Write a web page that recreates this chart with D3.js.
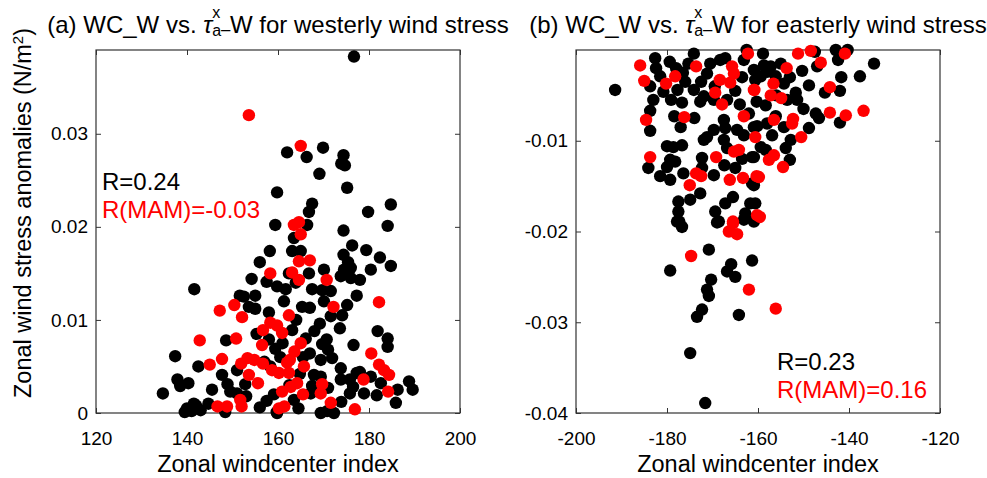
<!DOCTYPE html>
<html><head><meta charset="utf-8">
<script src="https://cdn.jsdelivr.net/npm/d3@7"></script>
<style>
body{margin:0;background:#fff;}
text{font-family:"Liberation Sans",Arial,sans-serif;fill:#000;}
</style></head>
<body><svg id="c" width="987" height="478"></svg>
<script>
// ---------- data ----------
const westXTicks = [120,140,160,180,200];
const westYTicks = [0,0.01,0.02,0.03];
const eastXTicks = [-200,-180,-160,-140,-120];
const eastYTicks = [-0.04,-0.03,-0.02,-0.01];
const westTitle = ["(a)", "westerly wind stress"];
const eastTitle = ["(b)", "easterly wind stress"];
const westR = ["R=0.24", "R(MAM)=-0.03"];
const eastR = ["R=0.23", "R(MAM)=0.16"];

const westAll = [[159.8,0.0237],[159.4,0.0202],[176.7,0.0383],[162,0.0280],[166.3,0.0275],[169.9,0.0285],[174.4,0.0277],[174.7,0.0266],[173.9,0.0268],[169.1,0.0257],[175.2,0.0242],[167.5,0.0225],[166.8,0.0216],[179.8,0.0216],[184.8,0.0224],[166.4,0.0202],[184.1,0.0201],[174.4,0.0196],
[158.2,0.0174],[156,0.0162],[154.2,0.0144],[157.5,0.0141],[159.8,0.0136],[141.6,0.0133],[151.6,0.0126],[152.5,0.0125],[155,0.0126],[153.6,0.0114],[155,0.0112],[158,0.0108],[155.3,0.0085],[148.6,0.0078],[158,0.0079],[159.4,0.0069],[137.4,0.0061],[142.5,0.0050],[151,0.0046],[147.7,0.0041],[137.9,0.0036],[140.3,0.0032],[138.5,0.0029],[148.9,0.0031],[152.8,0.0031],[134.7,0.0021],[149.5,0.0023],[151,0.0021],[159.1,0.0020],[157.5,0.0013],[148.4,0.0001],[140,0.0005],[141,0.0002],[142,0.0008],[143,0.0003],[139.5,0.0001],[141.5,0.0010],[144.7,0.0010],[159.7,0.0001],
[163.5,0.0188],[176.3,0.0180],[179.4,0.0175],[163.1,0.0174],[165,0.0174],[174.4,0.0170],[182.4,0.0167],[175.4,0.0162],[184.8,0.0158],[170.1,0.0154],[174.5,0.0154],[176,0.0156],[180.4,0.0154],[166.8,0.0150],[162.4,0.0150],[173.8,0.0147],[176,0.0145],[178,0.0143],[161.7,0.0133],[163.9,0.0140],[167.5,0.0133],[169.7,0.0132],[171.6,0.0131],[177.3,0.0126],[161.3,0.0120],[165.3,0.0114],[167,0.0113],[170.1,0.0120],[175.2,0.0116],[171.6,0.0104],[174.1,0.0105],[169.2,0.0096],[163.1,0.0089],[173.6,0.0091],[181.9,0.0088],[184.1,0.0080],[166.1,0.0080],[170.7,0.0079],[169.7,0.0074],[176.6,0.0073],[184.1,0.0071],[167,0.0064],[171.9,0.0059],[158.3,0.0050],[169.4,0.0057],[173.8,0.0048],[164.8,0.0042],[167.9,0.0041],[169.4,0.0039],[177.3,0.0043],[178,0.0044],[180.4,0.0039],[173.8,0.0036],[175.8,0.0036],[188.8,0.0034],[189.6,0.0025],[182.6,0.0032],[167.2,0.0021],[175.8,0.0021],[178.9,0.0021],[181.7,0.0019],[186.3,0.0025],[163.5,0.0014],[173.9,0.0012],[185.9,0.0011],[159.8,0.0000],[169.4,0.0000],[170.8,0.0002],[172.3,0.0000],
[160.5,0.0060],[157,0.0055],[161,0.0075],[164,0.0100],[168,0.0088],[171,0.0068],[165.5,0.0060],[162.5,0.0030],[167.5,0.0029],[171,0.0027],[176.5,0.0028],[145.5,0.0025],[153,0.0018],[156,0.0006],[164.5,0.0005]];

const westMAM = [[153.6,0.0320],[165,0.0287],[163.5,0.0202],[164.6,0.0205],[158.3,0.0150],[150.4,0.0116],[147.2,0.0110],[152.1,0.0103],[158.3,0.0097],[159.8,0.0094],[156.7,0.0089],[142.8,0.0078],[150.8,0.0080],[156.5,0.0073],[147.7,0.0058],[153.3,0.0059],[154.8,0.0057],[145,0.0052],[151.9,0.0053],[156.7,0.0053],[158.7,0.0046],[153.6,0.0041],[155.6,0.0032],[151.7,0.0014],[152,0.0007],[146.7,0.0007],[148.8,0.0007],[160.2,0.0005],
[165,0.0192],[164.6,0.0163],[167,0.0164],[163.1,0.0151],[164.6,0.0143],[170.7,0.0143],[172.2,0.0114],[182.2,0.0119],[162.4,0.0105],[160.9,0.0086],[165,0.0075],[163.6,0.0066],[180.5,0.0064],[162,0.0054],[162.6,0.0057],[165.7,0.0050],[182.2,0.0052],[183.3,0.0046],[184.4,0.0041],[160.2,0.0043],[162.4,0.0043],[178.8,0.0036],[164.2,0.0032],[162.8,0.0028],[169.7,0.0031],[160.9,0.0023],[165.5,0.0020],[169.4,0.0021],[184.2,0.0023],[171.6,0.0011],[161.4,0.0007],[176.9,0.0004]];

const eastAll = [[-191.4,-0.0044],[-182.6,-0.0009],[-182.4,-0.0020],[-181.5,-0.0029],[-183.7,-0.0040],[-179.4,-0.0013],[-180.8,-0.0046],[-177.7,-0.0044],[-176,-0.0035],[-174.1,-0.0004],[-175.3,-0.0015],[-183,-0.0055],[-179.1,-0.0055],[-176.7,-0.0058],[-174.1,-0.0044],[-183.7,-0.0067],[-183.7,-0.0089],[-178.4,-0.0073],[-171.9,-0.0051],[-171.2,-0.0026],[-170.5,-0.0015],[-168.3,-0.0011],[-167.2,-0.0009],[-163.1,-0.0011],[-162.5,0],[-166.8,-0.0055],[-169.7,-0.0055],[-172.7,-0.0057],[-160.9,-0.0022],[-160.6,-0.0033],[-160.3,-0.0057],[-167.5,-0.0077],[-167.2,-0.0086],[-169.7,-0.0088],[-171.2,-0.0096],[-171.9,-0.0099],[-164.6,-0.0088],[-163.1,-0.0094],[-160.9,-0.0085],[-180,-0.0106],[-178.6,-0.0107],[-176.7,-0.0105],[-167.5,-0.0099],[-166.8,-0.0108],[-184.1,-0.0130],[-179.3,-0.0121],[-178.2,-0.0123],[-180,-0.0129],[-181.5,-0.0139],[-179.3,-0.0143],[-176.4,-0.0136],[-172.3,-0.0119],[-172.3,-0.0130],[-167.4,-0.0127],[-169.7,-0.0138],[-160.9,-0.0118],[-161.3,-0.0147],[-172.7,-0.0158],[-174.9,-0.0165],[-177.5,-0.0167],[-177.5,-0.0178],[-177.3,-0.0189],[-165.5,-0.0162],[-167.2,-0.0169],[-169.4,-0.0178],[-168.6,-0.0189],[-162.8,-0.0180],[-161.7,-0.0169],[-160.9,-0.0189],
[-158.9,-0.0004],[-147.5,-0.0002],[-142.9,0],[-140.3,0],[-142.4,-0.0011],[-147,-0.0018],[-134.5,-0.0015],[-150.3,-0.0023],[-158.7,-0.0017],[-157.2,-0.0018],[-158,-0.0024],[-159.4,-0.0029],[-156.1,-0.0029],[-141.7,-0.0030],[-137.6,-0.0029],[-148.8,-0.0039],[-154.3,-0.0037],[-151.7,-0.0047],[-151.4,-0.0055],[-153.6,-0.0055],[-145.3,-0.0047],[-142,-0.0045],[-158.3,-0.0061],[-147.3,-0.0070],[-146.6,-0.0075],[-142,-0.0080],[-156.1,-0.0073],[-154.3,-0.0085],[-148.8,-0.0086],[-160.2,-0.0084],[-158,-0.0081],[-156.9,-0.0094],[-152.8,-0.0099],[-153.9,-0.0108],[-159.4,-0.0107],[-158.3,-0.0110],[-153,-0.0121],[-161.3,-0.0118],[-160.9,-0.0149],[-160.6,-0.0169],[-160.6,-0.0185],
[-177.8,-0.0189],[-176.7,-0.0195],[-169,-0.0190],[-163.1,-0.0187],[-170.8,-0.0220],[-179.3,-0.0243],[-165.9,-0.0236],[-166.8,-0.0244],[-165,-0.0250],[-161.3,-0.0232],[-170.3,-0.0253],[-171.2,-0.0264],[-170.8,-0.0271],[-172.3,-0.0286],[-173.4,-0.0294],[-164.2,-0.0292],[-174.9,-0.0334],[-171.6,-0.0389],
[-178,-0.0020],[-176.5,-0.0025],[-172.5,-0.0035],[-169.5,-0.0040],[-165,-0.0045],[-163.5,-0.0030],[-164,-0.0060],[-162,-0.0070],[-174,-0.0075],[-177,-0.0085],[-165,-0.0130],[-163.5,-0.0120],[-156,-0.0050],[-155,-0.0015],[-153,-0.0030],[-150,-0.0065]];

const eastMAM = [[-185.9,-0.0017],[-185,-0.0034],[-180.2,-0.0037],[-178.2,-0.0029],[-173.6,-0.0018],[-184.6,-0.0077],[-176.2,-0.0074],[-168.4,-0.0033],[-165.7,-0.0018],[-165.3,-0.0026],[-166.1,-0.0036],[-162.2,-0.0004],[-169.4,-0.0047],[-167.9,-0.0060],[-160.9,-0.0044],[-163.1,-0.0073],[-160.6,-0.0096],[-165.3,-0.0112],[-164.2,-0.0110],[-183.7,-0.0118],[-173.6,-0.0136],[-172.5,-0.0139],[-175,-0.0149],[-169.2,-0.0118],[-166.2,-0.0143],[-163.3,-0.0141],[-160.3,-0.0139],[-165.5,-0.0189],[-160.2,-0.0182],
[-151.2,-0.0004],[-148.4,-0.0001],[-140.9,-0.0004],[-146.2,-0.0014],[-153.7,-0.0020],[-156.6,-0.0037],[-160.8,-0.0044],[-157.2,-0.0050],[-154.9,-0.0053],[-144.2,-0.0041],[-144.2,-0.0069],[-140.7,-0.0072],[-136.8,-0.0067],[-156.5,-0.0077],[-152.3,-0.0076],[-152.5,-0.0081],[-150.5,-0.0096],[-156.5,-0.0116],[-157.6,-0.0121],[-154.5,-0.0129],[-159.8,-0.0140],[-159.6,-0.0184],
[-165.5,-0.0191],[-166.4,-0.0200],[-164.6,-0.0203],[-174.7,-0.0227],[-162,-0.0264],[-156.1,-0.0285]];

// ---------- drawing ----------
const svg = d3.select("#c");
const TOPY = 50, BOTY = 413, PW = 364;
const RED = "#ff0000";

function panel(opt){
  const x = d3.scaleLinear().domain(opt.xd).range([opt.left, opt.left+PW]);
  const y = d3.scaleLinear().domain(opt.yd).range([BOTY, TOPY]);
  const g = svg.append("g");
  const fmt = d => d===0 ? "0" : String(d);

  const ax = (axis, tr, vals, labels) => {
    const a = g.append("g").attr("transform", tr)
      .call(axis.tickValues(vals).tickSizeInner(-5).tickSizeOuter(0).tickPadding(labels?opt.pad:0)
        .tickFormat(labels ? fmt : ""));
    a.select(".domain").remove();
    a.selectAll("line").attr("stroke","#333");
    a.selectAll("text").style("font-size","19px").attr("fill","#000");
    return a;
  };
  ax(d3.axisBottom(x), `translate(0,${BOTY})`, opt.xt, true).selectAll("text").attr("dy","0.71em").attr("y",18.5);
  ax(d3.axisTop(x), `translate(0,${TOPY})`, opt.xt, false);
  ax(d3.axisLeft(y), `translate(${opt.left},0)`, opt.yt, true).selectAll("text").attr("x",-8);
  ax(d3.axisRight(y), `translate(${opt.left+PW},0)`, opt.yt, false);

  g.append("rect").attr("x",opt.left).attr("y",TOPY).attr("width",PW).attr("height",BOTY-TOPY)
    .attr("fill","none").attr("stroke","#333").attr("stroke-width",1.2);

  g.append("g").selectAll("circle").data(opt.all).join("circle")
    .attr("cx",d=>x(d[0])).attr("cy",d=>y(d[1])).attr("r",6.2).attr("fill","#000");
  g.append("g").selectAll("circle").data(opt.mam).join("circle")
    .attr("cx",d=>x(d[0])).attr("cy",d=>y(d[1])).attr("r",6.2).attr("fill",RED);

  // title
  const cx = opt.left + PW/2;
  const t = svg.append("text").attr("x",cx).attr("y",33).attr("text-anchor","middle").style("font-size","24px");
  t.append("tspan").text(opt.title[0] + " WC_W vs. ");
  t.append("tspan").style("font-style","italic").text("\u03C4");
  t.append("tspan").attr("dy",-15).style("font-size","16px").text("x");
  t.append("tspan").attr("dx",-8).attr("dy",18).style("font-size","16px").text("a");
  t.append("tspan").attr("dy",-8).style("font-size","16px").text("_");
  t.append("tspan").attr("dy",5).text("W for " + opt.title[1]);

  // x label
  svg.append("text").attr("x",cx).attr("y",472).attr("text-anchor","middle").style("font-size","23.5px")
    .text("Zonal windcenter index");

  // R texts
  svg.append("text").attr("x",opt.rx).attr("y",opt.ry).style("font-size","24px").text(opt.r[0]);
  svg.append("text").attr("x",opt.rx).attr("y",opt.ry+27.5).style("font-size","24px").style("fill",RED).text(opt.r[1]);
}

panel({left:96, xd:[120,200], yd:[0,0.039], xt:westXTicks, yt:westYTicks, all:westAll, mam:westMAM,
  title:westTitle, r:westR, rx:102, ry:190, pad:8});
panel({left:576, xd:[-200,-120], yd:[-0.04,0], xt:eastXTicks, yt:eastYTicks, all:eastAll, mam:eastMAM,
  title:eastTitle, r:eastR, rx:777, ry:370, pad:8});

// y label
const yl = svg.append("text").attr("transform","translate(31,213) rotate(-90)")
  .attr("text-anchor","middle").style("font-size","23.5px");
yl.append("tspan").text("Zonal wind stress anomalies (N/m");
yl.append("tspan").attr("dy",-8).style("font-size","15px").text("2");
yl.append("tspan").attr("dy",8).text(")");
</script></body></html>
